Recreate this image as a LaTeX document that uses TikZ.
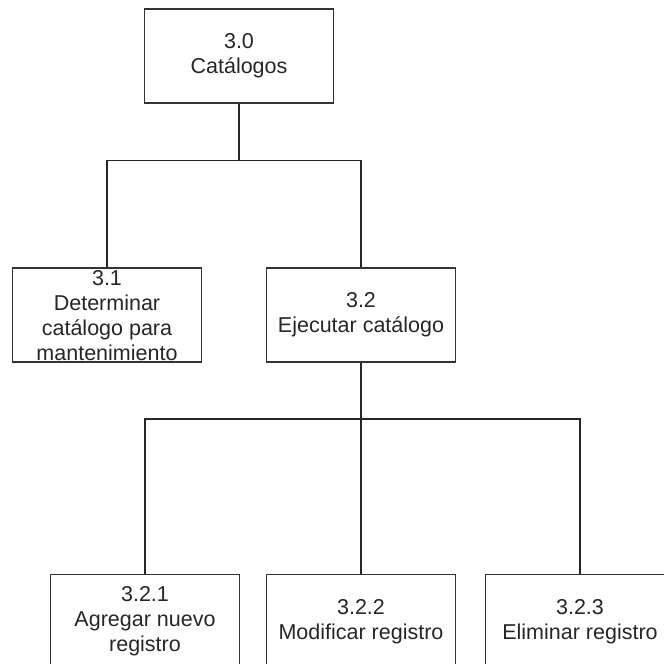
\documentclass[tikz,border=0pt]{standalone}
\usepackage{fontspec}
\setmainfont{Liberation Sans}
\usetikzlibrary{positioning}

\begin{document}
\begin{tikzpicture}[
  proc/.style={rectangle, draw=black!80, line width=1.4pt, minimum width=189pt, minimum height=94pt, inner sep=0pt, align=center, text=black!85, font=\fontsize{21.5pt}{25pt}\selectfont},
  wire/.style={draw=black!85, line width=1.4pt}
]
  \useasboundingbox (0,0) rectangle (664pt,-664pt);
  \clip (0,0) rectangle (664pt,-664pt);

  % top level
  \node[proc] (cat) at (239pt,-56pt) {3.0\\Catálogos};

  % second level
  \node[proc] (det) [below=163.7pt of cat, xshift=-132pt] {3.1\\Determinar\\catálogo para\\mantenimiento};
  \node[proc] (eje) [below=163.7pt of cat, xshift=122pt] {3.2\\Ejecutar catálogo};

  % third level
  \node[proc] (agr) [below=211pt of eje, xshift=-216pt] {3.2.1\\Agregar nuevo\\registro};
  \node[proc] (mod) [below=211pt of eje] {3.2.2\\Modificar registro};
  \node[proc] (eli) [below=211pt of eje, xshift=219pt] {3.2.3\\Eliminar registro};

  % junctions
  \coordinate[below=57pt of cat] (j1);
  \coordinate[below=56.3pt of eje] (j2);

  % tree connectors
  \foreach \kid in {det, eje}
    \draw[wire] (cat.south) -- (j1) -| (\kid.north);
  \foreach \kid in {agr, mod, eli}
    \draw[wire] (eje.south) -- (j2) -| (\kid.north);
\end{tikzpicture}
\end{document}
